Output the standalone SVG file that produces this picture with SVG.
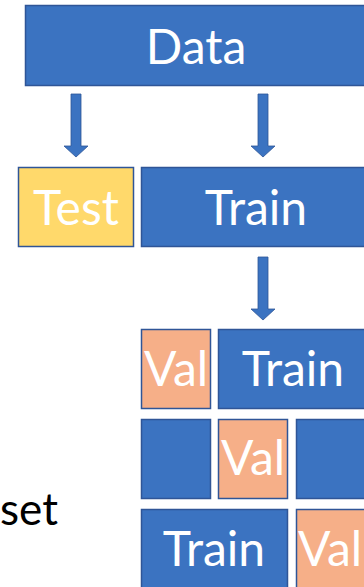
<svg xmlns="http://www.w3.org/2000/svg" width="364" height="587" viewBox="0 0 364 587">
<defs>
<style>
.b{fill:#3B73C1;stroke:#2F5597;stroke-width:1.5}
.v{fill:#F6AF88;stroke:#2F5597;stroke-width:1.5}
.y{fill:#FFD96B;stroke:#2F5597;stroke-width:1.5}
.t{font-family:Lato,"Liberation Sans",sans-serif;fill:#ffffff;text-anchor:middle;font-size:48px}
.a{fill:#3B73C1;stroke:#2F5597;stroke-width:0.8}
</style>
</defs>
<rect width="364" height="587" fill="#ffffff"/>
<g id="data"><rect class="b" x="25.5" y="5.5" width="345" height="80"/><text class="t" x="196" y="64">Data</text></g>
<g id="test"><rect class="y" x="18.5" y="167.5" width="115" height="79"/><text class="t" x="76" y="225">Test</text></g>
<g id="train"><rect class="b" x="141.5" y="167.5" width="230" height="79"/><text class="t" x="256" y="225">Train</text></g>
<g id="val1"><rect class="v" x="141.5" y="329.5" width="69" height="79"/><text class="t" x="176" y="386">Val</text></g>
<g id="train1"><rect class="b" x="218.5" y="329.5" width="150" height="79"/><text class="t" x="293" y="386">Train</text></g>
<g id="train2a"><rect class="b" x="141.5" y="419.5" width="69" height="79"/></g>
<g id="val2"><rect class="v" x="218.5" y="419.5" width="69" height="79"/><text class="t" x="253" y="475">Val</text></g>
<g id="train2b"><rect class="b" x="296.5" y="419.5" width="72" height="79"/></g>
<g id="train3"><rect class="b" x="141.5" y="509.5" width="146" height="82"/><text class="t" x="214" y="566">Train</text></g>
<g id="val3"><rect class="v" x="296.5" y="509.5" width="72" height="82"/><text class="t" x="330" y="566">Val</text></g>
<g id="label"><text x="0" y="525" font-size="44" font-family="Lato,'Liberation Sans',sans-serif" fill="#000000">set</text></g>
<g id="connectors">
<path class="a" d="M71,94 H81 V146 H88 L76,157 L64,146 H71 Z"/>
<path class="a" d="M258,94 H268 V146 H275 L263,157 L251,146 H258 Z"/>
<path class="a" d="M258,257 H268 V309 H275 L263,320 L251,309 H258 Z"/>
</g>
</svg>
